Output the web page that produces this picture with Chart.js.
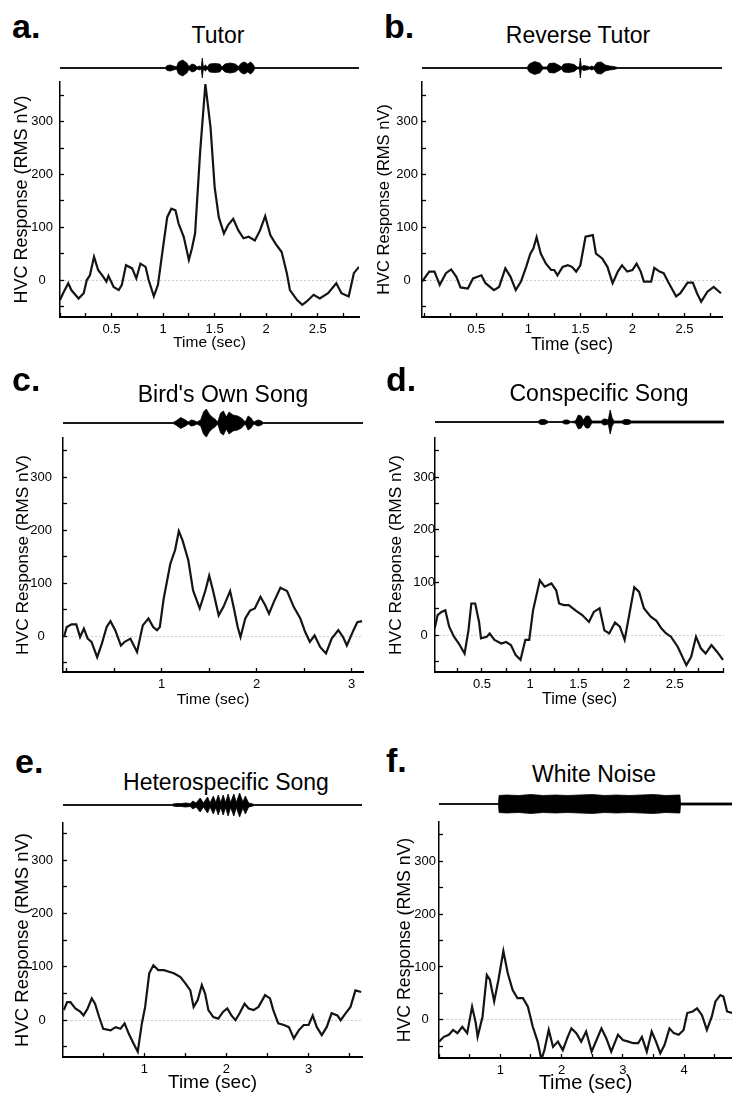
<!DOCTYPE html>
<html>
<head>
<meta charset="utf-8">
<script src="https://cdn.jsdelivr.net/npm/chart.js@4.4.1/dist/chart.umd.min.js"></script>
<style>
  body { margin: 0; background: #fff; width: 732px; height: 1093px; position: relative; overflow: hidden;
         font-family: "Liberation Sans", Arial, sans-serif; color: #000; }
  canvas { position: absolute; }
  .letter { position: absolute; font-weight: bold; font-size: 34px; line-height: 34px; }
  .title { position: absolute; font-size: 23px; line-height: 23px; white-space: nowrap; transform: translateX(-50%); }
</style>
</head>
<body>
<script>
// ---- data ----
const yTickLabels = [0, 100, 200, 300];
const xTicksHalf = [0.5, 1, 1.5, 2, 2.5];
const xTicks3 = [1, 2, 3];
const xTicks4 = [1, 2, 3, 4];

// a. Tutor
const timeA = [0, 0.03, 0.08, 0.11, 0.18, 0.23, 0.26, 0.29, 0.33, 0.37, 0.42, 0.45, 0.47, 0.52, 0.57, 0.6, 0.64, 0.7, 0.74, 0.78, 0.83, 0.86, 0.91, 0.95, 1.0, 1.04, 1.08, 1.12, 1.15, 1.2, 1.25, 1.28, 1.31, 1.36, 1.41, 1.46, 1.5, 1.54, 1.59, 1.63, 1.68, 1.73, 1.78, 1.83, 1.89, 1.94, 1.99, 2.04, 2.09, 2.15, 2.2, 2.23, 2.3, 2.35, 2.39, 2.46, 2.52, 2.6, 2.68, 2.73, 2.8, 2.85, 2.9];
const respA = [-38, -25, -6, -19, -35, -25, 0, 9, 44, 19, 6, -3, 8, -13, -19, -9, 28, 22, 3, 31, 25, 0, -31, -9, 63, 119, 135, 132, 107, 82, 38, 60, 88, 245, 371, 289, 176, 119, 88, 104, 116, 94, 79, 82, 75, 94, 121, 85, 69, 53, 13, -19, -38, -47, -41, -28, -35, -25, -6, -25, -31, 13, 25];
const songTimeA = [0, 1.02, 1.04, 1.07, 1.10, 1.13, 1.15, 1.19, 1.23, 1.25, 1.28, 1.31, 1.33, 1.35, 1.37, 1.38, 1.39, 1.41, 1.43, 1.45, 1.50, 1.55, 1.57, 1.60, 1.65, 1.70, 1.73, 1.76, 1.79, 1.82, 1.85, 1.87, 1.89, 2.9];
const songAmpA = [0.5, 0.5, 2.5, 3, 2, 1, 6, 8, 5, 1.5, 4, 3, 1, 2, 1, 10, 1, 3, 1, 4, 4.5, 4, 1, 4, 5, 4, 1.5, 5, 6, 4, 6, 4, 0.5, 0.5];

// b. Reverse Tutor
const timeB = [-0.02, 0.05, 0.1, 0.15, 0.21, 0.26, 0.31, 0.35, 0.42, 0.47, 0.55, 0.59, 0.67, 0.72, 0.78, 0.83, 0.88, 0.93, 0.98, 1.02, 1.05, 1.08, 1.12, 1.17, 1.22, 1.25, 1.28, 1.33, 1.38, 1.42, 1.46, 1.5, 1.55, 1.62, 1.65, 1.71, 1.76, 1.81, 1.86, 1.9, 1.95, 2.0, 2.04, 2.08, 2.11, 2.18, 2.21, 2.26, 2.3, 2.35, 2.42, 2.46, 2.53, 2.58, 2.62, 2.66, 2.72, 2.78, 2.85];
const respB = [-3, 16, 16, -9, 13, 20, 6, -14, -16, 3, 9, -6, -19, -13, 22, 6, -19, -3, 25, 50, 60, 81, 50, 31, 19, 19, 9, 25, 28, 25, 16, 28, 82, 85, 50, 41, 25, -6, 16, 28, 16, 19, 31, 16, -3, -3, 23, 16, 13, -6, -31, -25, -5, -5, -25, -41, -22, -13, -25];
const songTimeB = [-0.02, 0.99, 1.01, 1.06, 1.11, 1.14, 1.18, 1.2, 1.25, 1.29, 1.32, 1.34, 1.39, 1.44, 1.47, 1.49, 1.5, 1.51, 1.53, 1.56, 1.59, 1.61, 1.63, 1.66, 1.70, 1.74, 1.78, 1.82, 1.86, 2.86];
const songAmpB = [0.5, 0.5, 4, 6.5, 5, 1, 1, 4.5, 5, 3, 1, 4, 4.5, 3.5, 1, 1, 10, 1, 2.5, 2, 1, 2, 1, 5.5, 6, 3, 2, 1.5, 0.5, 0.5];

// c. Bird's Own Song
const timeC = [-0.03, 0.0, 0.05, 0.1, 0.14, 0.18, 0.22, 0.26, 0.32, 0.37, 0.42, 0.46, 0.51, 0.57, 0.61, 0.67, 0.74, 0.8, 0.86, 0.91, 0.95, 0.98, 1.02, 1.09, 1.14, 1.18, 1.22, 1.28, 1.33, 1.4, 1.46, 1.5, 1.54, 1.6, 1.65, 1.72, 1.75, 1.8, 1.83, 1.88, 1.93, 1.98, 2.04, 2.09, 2.13, 2.18, 2.25, 2.32, 2.39, 2.46, 2.51, 2.56, 2.61, 2.67, 2.73, 2.79, 2.86, 2.91, 2.95, 3.02, 3.06, 3.11];
const respC = [-2, 17, 22, 22, -2, 14, -5, -11, -40, -14, 17, 28, 11, -18, -11, -5, -30, 20, 33, 17, 11, 17, 70, 136, 162, 198, 180, 143, 86, 52, 86, 114, 86, 39, 55, 85, 61, 17, -2, 33, 48, 52, 74, 58, 42, 64, 91, 85, 55, 33, 8, -11, 1, -21, -33, -5, 11, -2, -18, 11, 26, 28];
const songTimeC = [-0.04, 1.12, 1.15, 1.2, 1.25, 1.28, 1.31, 1.34, 1.37, 1.41, 1.44, 1.47, 1.5, 1.53, 1.56, 1.59, 1.62, 1.65, 1.68, 1.71, 1.75, 1.8, 1.84, 1.88, 1.91, 1.94, 1.97, 2.01, 2.04, 2.07, 3.12];
const songAmpC = [0.5, 0.5, 2, 5.5, 3, 1, 3, 2.5, 1, 3, 11, 14, 9, 6, 4, 1, 10, 12, 6, 11, 8, 7, 5, 1, 7, 5, 1, 3, 2.5, 0.5, 0.5];

// d. Conspecific Song
const timeD = [0.01, 0.04, 0.08, 0.12, 0.16, 0.21, 0.26, 0.32, 0.36, 0.39, 0.43, 0.47, 0.49, 0.55, 0.58, 0.63, 0.7, 0.75, 0.8, 0.85, 0.9, 0.95, 0.99, 1.03, 1.1, 1.15, 1.22, 1.27, 1.3, 1.35, 1.4, 1.47, 1.54, 1.61, 1.66, 1.72, 1.77, 1.82, 1.88, 1.93, 1.98, 2.03, 2.08, 2.13, 2.18, 2.25, 2.31, 2.36, 2.41, 2.46, 2.53, 2.62, 2.67, 2.72, 2.77, 2.82, 2.88, 2.94, 3.0];
const respD = [13, 38, 44, 47, 16, -3, -16, -35, 9, 60, 60, 25, -6, -3, 3, -9, -16, -13, -19, -38, -47, -9, -9, 47, 104, 92, 98, 85, 60, 57, 57, 47, 38, 25, 44, 51, 9, 3, 24, 16, -9, 41, 91, 82, 51, 35, 27, 13, 3, -3, -22, -57, -41, -3, -25, -35, -19, -32, -47];
const songTimeD = [0.01, 1.08, 1.11, 1.15, 1.19, 1.33, 1.36, 1.39, 1.42, 1.47, 1.50, 1.53, 1.55, 1.58, 1.61, 1.64, 1.74, 1.76, 1.78, 1.81, 1.83, 1.85, 1.87, 1.95, 1.98, 2.02, 2.05, 3.01];
const songAmpD = [0.5, 0.5, 2.5, 2.5, 0.5, 0.5, 2, 2, 0.5, 1, 7, 6, 2, 6, 6, 1, 1, 3, 3, 2, 12, 4, 1, 1, 2.5, 2.5, 1, 1];

// e. Heterospecific Song
const timeE = [0.02, 0.06, 0.1, 0.16, 0.22, 0.26, 0.31, 0.36, 0.4, 0.45, 0.5, 0.59, 0.65, 0.71, 0.76, 0.81, 0.87, 0.92, 0.97, 1.01, 1.06, 1.11, 1.17, 1.24, 1.3, 1.36, 1.44, 1.5, 1.56, 1.6, 1.65, 1.7, 1.74, 1.78, 1.84, 1.9, 1.96, 2.01, 2.06, 2.11, 2.16, 2.22, 2.27, 2.33, 2.39, 2.47, 2.53, 2.57, 2.63, 2.7, 2.76, 2.82, 2.88, 2.94, 3.0, 3.05, 3.1, 3.16, 3.22, 3.28, 3.35, 3.39, 3.45, 3.51, 3.57, 3.64];
const respE = [19, 34, 34, 22, 16, 9, 22, 41, 31, 6, -16, -19, -13, -16, -6, -25, -44, -59, -6, 25, 88, 103, 94, 94, 91, 88, 81, 69, 56, 25, 38, 66, 50, 19, 6, 3, 16, 22, 9, 0, 13, 31, 22, 19, 25, 47, 41, 19, -6, -9, -13, -34, -19, -9, -9, 9, -13, -28, -13, 13, 9, 0, 13, 25, 56, 53];
const songTimeE = [0.01, 1.33, 1.38, 1.45, 1.5, 1.56, 1.59, 1.63, 1.68, 1.72, 1.77, 1.8, 1.84, 1.87, 1.9, 1.93, 1.96, 1.99, 2.02, 2.05, 2.09, 2.12, 2.16, 2.2, 2.23, 2.27, 2.3, 2.34, 3.65];
const songAmpE = [0.5, 0.5, 1.5, 1.5, 2, 1.5, 4, 2, 7, 2, 8, 2, 9, 2.5, 10, 2.5, 10, 2.5, 11, 2.5, 11, 2.5, 12, 3, 9, 2, 1.5, 0.5, 0.5];

// f. White Noise
const timeF = [0.0, 0.08, 0.16, 0.23, 0.3, 0.38, 0.46, 0.54, 0.6, 0.63, 0.71, 0.78, 0.83, 0.9, 0.97, 1.05, 1.12, 1.2, 1.28, 1.37, 1.45, 1.53, 1.61, 1.67, 1.72, 1.79, 1.86, 1.94, 2.02, 2.1, 2.16, 2.24, 2.32, 2.4, 2.49, 2.57, 2.65, 2.73, 2.81, 2.92, 3.0, 3.09, 3.17, 3.25, 3.31, 3.39, 3.47, 3.54, 3.61, 3.68, 3.76, 3.83, 3.91, 3.99, 4.05, 4.14, 4.21, 4.29, 4.37, 4.45, 4.51, 4.59, 4.64, 4.7, 4.78];
const respF = [-41, -32, -28, -19, -25, -13, -25, 25, -6, -32, 6, 85, 76, 35, 76, 130, 89, 57, 41, 41, 25, -13, -41, -75, -57, -19, -51, -41, -57, -32, -16, -25, -41, -22, -60, -38, -16, -35, -60, -28, -38, -41, -44, -44, -32, -60, -22, -41, -63, -47, -16, -25, -28, -19, 13, 16, 22, 9, -19, 6, 35, 47, 44, 16, 13];
const songTimeF = [0, 0.97, 0.98, 1.1, 1.3, 1.5, 1.7, 1.9, 2.1, 2.3, 2.5, 2.7, 2.9, 3.1, 3.3, 3.5, 3.7, 3.9, 3.93, 3.94, 4.78];
const songAmpF = [0.5, 0.5, 8.5, 9, 8.5, 9.5, 8.5, 9, 8.5, 9, 9.5, 8.5, 9, 8.5, 9, 9.5, 8.5, 9, 9, 1, 1];

// ---- panel layout (page pixels) ----
const panels = [
  { letter: "a.", title: "Tutor", t: timeA, v: respA, st: songTimeA, sa: songAmpA,
    box: [0, 0, 366, 365], plot: [60, 359, 82, 317], waveTop: 52, waveMid: 68,
    xr: [0, 2.9], yr: [-70, 375], xStep: 0.25, xLabels: xTicksHalf,
    ytX: 22, ytSize: 18, yTickPad: 11, xtY: 343, xtSize: 15.5, letterPos: [12, 38], titlePos: [218, 43] },
  { letter: "b.", title: "Reverse Tutor", t: timeB, v: respB, st: songTimeB, sa: songAmpB,
    box: [366, 0, 366, 365], plot: [422, 722, 82, 317], waveTop: 52, waveMid: 68,
    xr: [-0.02, 2.86], yr: [-70, 375], xStep: 0.25, xLabels: xTicksHalf,
    ytX: 384, ytSize: 16.5, yTickPad: 8, xtY: 345, xtSize: 17.5, letterPos: [384, 38], titlePos: [578, 43] },
  { letter: "c.", title: "Bird's Own Song", t: timeC, v: respC, st: songTimeC, sa: songAmpC,
    box: [0, 370, 366, 365], plot: [63, 363, 438, 672], waveTop: 405, waveMid: 423,
    xr: [-0.04, 3.12], yr: [-68, 374], xStep: 0.5, xLabels: xTicks3,
    ytX: 23, ytSize: 17.3, yTickPad: 15, xtY: 700, xtSize: 15.5, letterPos: [12, 391], titlePos: [223, 402] },
  { letter: "d.", title: "Conspecific Song", t: timeD, v: respD, st: songTimeD, sa: songAmpD,
    box: [366, 370, 366, 365], plot: [435, 732, 438, 672], waveTop: 405, waveMid: 422,
    xr: [0.013, 3.01], yr: [-70, 374], xStep: 0.25, xLabels: xTicksHalf,
    ytX: 396, ytSize: 17.3, yTickPad: 4, xtY: 700, xtSize: 16, letterPos: [386, 391], titlePos: [599, 401] },
  { letter: "e.", title: "Heterospecific Song", t: timeE, v: respE, st: songTimeE, sa: songAmpE,
    box: [0, 740, 366, 360], plot: [63, 362, 823, 1057], waveTop: 790, waveMid: 805,
    xr: [0.01, 3.65], yr: [-69, 370], xStep: 0.5, xLabels: xTicks3,
    ytX: 23, ytSize: 18.5, yTickPad: 14, xtY: 1083, xtSize: 19, letterPos: [15, 773], titlePos: [226, 790] },
  { letter: "f.", title: "White Noise", t: timeF, v: respF, st: songTimeF, sa: songAmpF,
    box: [366, 740, 366, 360], plot: [439, 732, 822, 1058], waveTop: 790, waveMid: 804,
    xr: [0, 4.78], yr: [-72, 374], xStep: 0.5, xLabels: xTicks4,
    ytX: 405, ytSize: 17.7, yTickPad: 7, xtY: 1083, xtSize: 20, letterPos: [386, 772], titlePos: [594, 782] }
];

Chart.defaults.font.family = '"Liberation Sans", Arial, Helvetica, sans-serif';
Chart.defaults.color = "#000";

const clear = "rgba(0,0,0,0)";
function onStep(v, step) {
  const k = v / step;
  return Math.abs(k - Math.round(k)) < 1e-6;
}

function addText(cls, text, x, baseline, size) {
  const d = document.createElement("div");
  d.className = cls;
  d.textContent = text;
  d.style.left = x + "px";
  d.style.top = (baseline - 0.8465 * size) + "px";
  document.body.appendChild(d);
}

function drawPanel(p) {
  addText("letter", p.letter, p.letterPos[0], p.letterPos[1], 34);
  addText("title", p.title, p.titlePos[0], p.titlePos[1], 23);

  const [bx, by, bw, bh] = p.box;
  const [pl, pr, pt, pb] = p.plot;
  const cv = document.createElement("canvas");
  cv.width = bw; cv.height = bh;
  cv.style.left = bx + "px"; cv.style.top = by + "px";
  document.body.appendChild(cv);

  const yAxisW = pl - bx;
  const xAxisH = by + bh - pb;

  new Chart(cv, {
    type: "line",
    data: {
      datasets: [
        { data: p.t.map((t, i) => ({ x: t, y: p.v[i] })), yAxisID: "y",
          borderColor: "#141414", borderWidth: 2.2, pointRadius: 0, tension: 0 },
        { data: p.st.map((t, i) => ({ x: t, y: p.sa[i] })), yAxisID: "yw",
          borderColor: "#000", borderWidth: 0.8, pointRadius: 0, fill: "+1", backgroundColor: "#000" },
        { data: p.st.map((t, i) => ({ x: t, y: -p.sa[i] })), yAxisID: "yw",
          borderColor: "#000", borderWidth: 0.8, pointRadius: 0 }
      ]
    },
    options: {
      responsive: false,
      animation: false,
      events: [],
      layout: { padding: { left: 0, right: bx + bw - pr, top: p.waveTop - by, bottom: 0 } },
      plugins: { legend: { display: false }, tooltip: { enabled: false } },
      scales: {
        x: {
          type: "linear", min: p.xr[0], max: p.xr[1],
          border: { color: "#000", width: 2 },
          grid: { drawOnChartArea: false, tickLength: -4, tickWidth: 1.3,
                  tickColor: c => (c.tick && onStep(c.tick.value, p.xStep)) ? "#000" : clear },
          ticks: { stepSize: p.xStep, includeBounds: false, autoSkip: false, maxRotation: 0, padding: 9, font: { size: 13 },
                   callback: v => p.xLabels.includes(v) ? String(v) : "" },
          title: { display: true, text: "Time (sec)", font: { size: p.xtSize },
                   padding: { top: 0, bottom: by + bh - p.xtY - 0.6 * p.xtSize } },
          afterFit: s => { s.height = xAxisH; }
        },
        y: {
          type: "linear", position: "left", stack: "panel", stackWeight: pb - pt, weight: 0,
          min: p.yr[0], max: p.yr[1],
          border: { color: "#000", width: 1.5, dash: [1, 3] },
          grid: { lineWidth: 1, tickLength: -4, tickWidth: 1.3,
                  color: c => (c.tick && c.tick.value === 0) ? "#9a9a9a" : clear,
                  tickColor: c => (c.tick && c.tick.value % 50 === 0) ? "#000" : clear },
          ticks: { stepSize: 50, includeBounds: false, autoSkip: false, crossAlign: "center", padding: p.yTickPad, font: { size: 13 },
                   callback: v => yTickLabels.includes(v) ? String(v) : "" },
          title: { display: true, text: "HVC Response (RMS nV)", font: { size: p.ytSize },
                   padding: { top: p.ytX - bx - 0.6 * p.ytSize, bottom: 0 } },
          afterFit: s => { s.width = yAxisW; }
        },
        yw: {
          type: "linear", position: "left", stack: "panel", stackWeight: pt - p.waveTop, weight: 1,
          display: false, min: -(pt - p.waveMid), max: p.waveMid - p.waveTop
        }
      }
    }
  });
}

panels.forEach(drawPanel);
</script>
</body>
</html>
